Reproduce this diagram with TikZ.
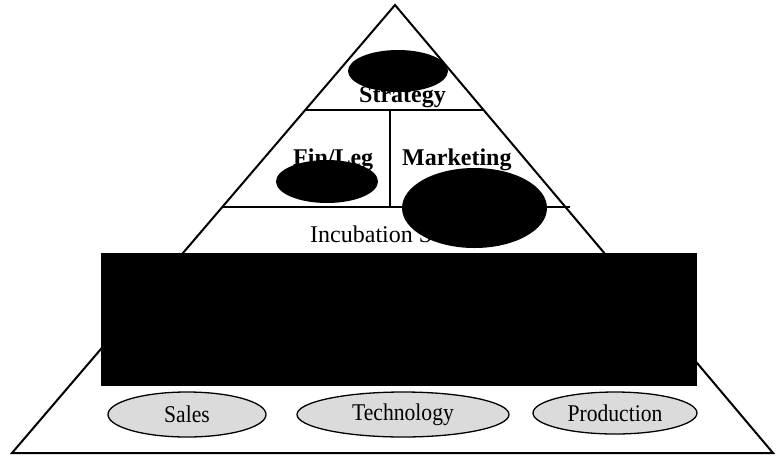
\documentclass[tikz,border=0pt]{standalone}
\usepackage{fontspec}
\setmainfont{Liberation Serif}
\usetikzlibrary{shapes.geometric}
\tikzset{
  edge/.style={line width=2pt, line join=miter},
  inner/.style={line width=1.8pt},
  lbl/.style={font=\fontsize{24}{26}\selectfont\bfseries, inner sep=0pt, anchor=base west},
  lblr/.style={font=\fontsize{24}{26}\selectfont, inner sep=0pt, anchor=base west},
  blob/.style={fill=black, draw=none},
  unit/.style={ellipse, draw=black, line width=1.3pt, fill=gray!28, inner sep=0pt,
    font=\fontsize{24}{26}\selectfont}
}
\begin{document}
\begin{tikzpicture}[x=1pt,y=-1pt]
\useasboundingbox[fill=white] (0,0) rectangle (776,456);
% pyramid outline
\coordinate (apex) at (395,5);
\coordinate (bl) at (12,453);
\coordinate (br) at (773,453);
\draw[edge] (apex) -- (bl) -- (br) -- cycle;
% inner dividers
\coordinate (s1) at (306,110);
\coordinate (s2) at (484,110);
\coordinate (f1) at (223,207);
\coordinate (f2) at (570,207);
\coordinate (v1) at (390,110);
\coordinate (v2) at (390,207);
\draw[inner] (s1) -- (s2);
\draw[inner] (f1) -- (f2);
\draw[inner] (v1) -- (v2);
% labels
\node[lbl] (strat) at (359,102) {Strategy};
\node[lbl] (fin) at (293,165) {Fin/Leg};
\node[lbl] (mkt) at (402,165) {Marketing};
\node[lblr] (inc) at (310,242) {Incubation S};
% black masks
\fill[blob] (398,71) ellipse [x radius=50, y radius=21];
\fill[blob] (327,181.5) ellipse [x radius=51, y radius=21.5];
\fill[blob] (474.5,208) ellipse [x radius=72.5, y radius=40];
\fill[blob] (101,253) rectangle (697,386);
% base units
\node[unit, minimum width=158, minimum height=45] (sales) at (187,414.5) {\scalebox{0.9}[1]{Sales}};
\node[unit, minimum width=212, minimum height=45] (tech) at (403,414.5) {\scalebox{0.9}[1]{Technology}};
\node[unit, minimum width=164, minimum height=42] (prod) at (615,413) {\scalebox{0.9}[1]{Production}};
\end{tikzpicture}
\end{document}
